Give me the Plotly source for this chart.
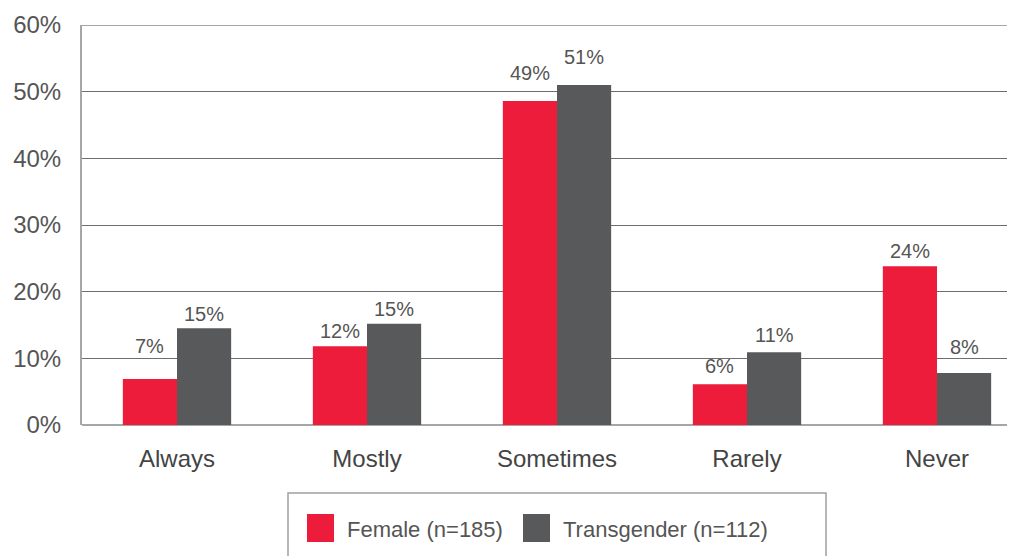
import plotly.graph_objects as go

categories = ["Always", "Mostly", "Sometimes", "Rarely", "Never"]
female = [6.9, 11.8, 48.6, 6.1, 23.8]
transgender = [14.5, 15.2, 51.0, 10.9, 7.8]
female_labels = ["7%", "12%", "49%", "6%", "24%"]
trans_labels = ["15%", "15%", "51%", "11%", "8%"]
series_names = ["Female (n=185)", "Transgender (n=112)"]
y_ticks = [0, 10, 20, 30, 40, 50, 60]
y_tick_labels = ["0%", "10%", "20%", "30%", "40%", "50%", "60%"]

# label gaps above bars (pixels, styling only)
female_gap = [24, 6, 19, 9, 6]
trans_gap = [5, 6, 19, 8, 17]

RED = "#ED1C3A"
GREY = "#58595B"
TXT = "#555555"
FONT = "Liberation Sans, Arial, sans-serif"

# page body has an 8px margin; figure coords = screen coords - 8
L, T, W, H = 74, 17, 1015, 556
PLOT_BOTTOM = 417
PW = W - L
PH = PLOT_BOTTOM - T


def px(x):  # screen x -> paper
    return (x - 8 - L) / PW


def py(y):  # screen y -> paper
    return (PLOT_BOTTOM - (y - 8)) / PH


fig = go.Figure()
offsets = [-0.5, 0.5]
for k, (vals, labels, gaps, name, col) in enumerate(
        [(female, female_labels, female_gap, series_names[0], RED),
         (transgender, trans_labels, trans_gap, series_names[1], GREY)]):
    fig.add_trace(go.Bar(x=list(range(len(categories))), y=vals, name=name, marker_color=col,
                         marker_line_width=0))
    for i, (v, lab, g) in enumerate(zip(vals, labels, gaps)):
        fig.add_annotation(x=i + offsets[k] * (1 - 0.43) / 2, y=v, text=lab, showarrow=False,
                           yanchor="bottom", xanchor="center", yshift=g - 4,
                           font=dict(size=20, color=TXT, family=FONT))

fig.update_layout(
    width=W, height=H,
    margin=dict(l=L, r=0, t=T, b=H - PLOT_BOTTOM),
    paper_bgcolor="white", plot_bgcolor="white",
    barmode="group", bargap=0.43, bargroupgap=0,
    showlegend=False,
    font=dict(family=FONT, color=TXT),
)
fig.update_xaxes(range=[-0.5, -0.5 + PW / 190], tickvals=list(range(len(categories))),
                 ticktext=categories, showline=False, ticks="", showgrid=False, automargin=False,
                 zeroline=False, tickfont=dict(size=24, color="#444444"), ticklabelstandoff=17)
fig.update_yaxes(range=[0, 60], tickvals=y_ticks, ticktext=y_tick_labels, automargin=False,
                 showgrid=True, gridcolor="#6e6e6e", gridwidth=1,
                 showline=True, linecolor="#a6a6a6", linewidth=2,
                 zeroline=True, zerolinecolor="#a6a6a6", zerolinewidth=2,
                 tickfont=dict(size=24, color=TXT), ticklabelstandoff=14, ticks="")

# top border of plot area
fig.add_shape(type="line", xref="paper", yref="y", x0=0, x1=1, y0=60, y1=60,
              line=dict(color="#a6a6a6", width=2))

# legend box drawn manually (extends past bottom edge like the reference)
fig.add_shape(type="rect", xref="paper", yref="paper",
              x0=px(288), x1=px(826), y0=py(590), y1=py(493),
              line=dict(color="#a0a0a0", width=1.5), fillcolor="white")
legend_items = [(307, RED, series_names[0]), (523, GREY, series_names[1])]
for x_px, col, name in legend_items:
    fig.add_shape(type="rect", xref="paper", yref="paper",
                  x0=px(x_px), x1=px(x_px + 27), y0=py(542), y1=py(514),
                  line=dict(width=0), fillcolor=col)
    fig.add_annotation(xref="paper", yref="paper", x=px(x_px + 38),
                       y=py(529), text=name, showarrow=False,
                       xanchor="left", yanchor="middle",
                       font=dict(size=22, color=TXT, family=FONT))

fig.write_html("out.html")
